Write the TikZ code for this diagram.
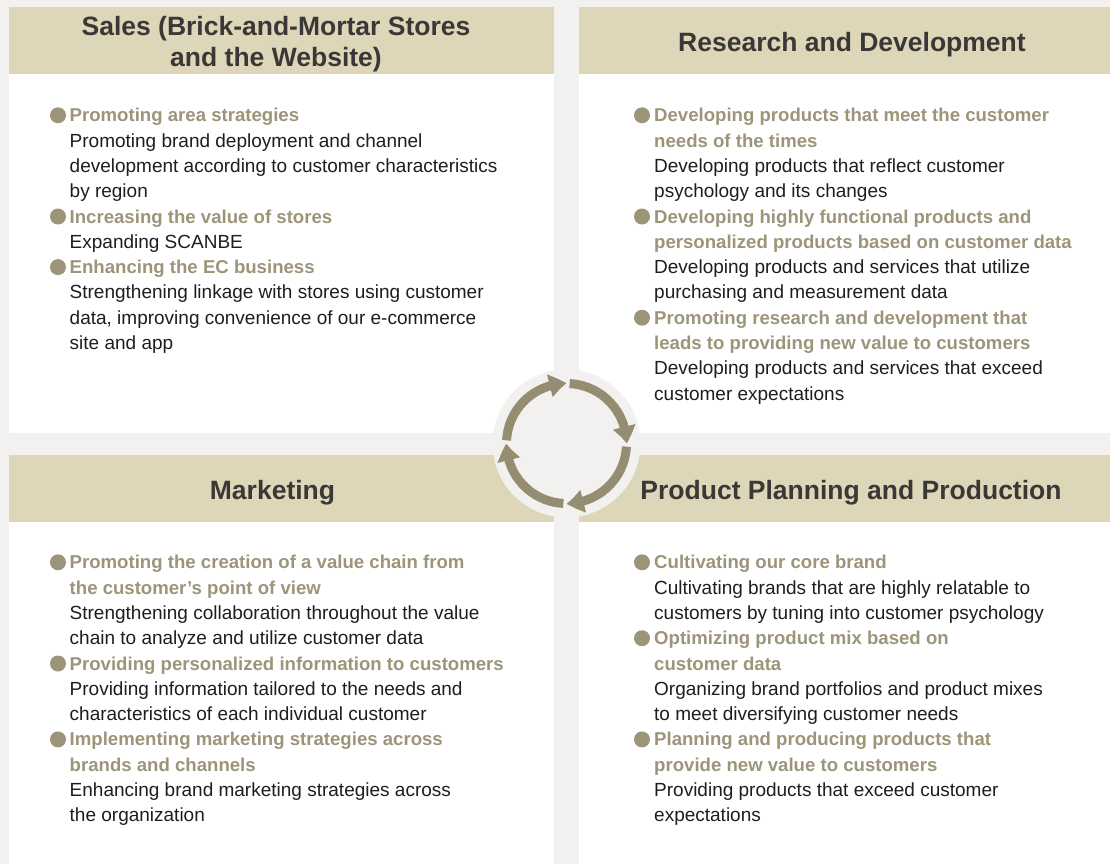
\documentclass[tikz,border=0pt]{standalone}
\usepackage{fontspec}
\setmainfont{Liberation Sans}
\usetikzlibrary{arrows.meta,bending}

\definecolor{bg}{HTML}{F2F1EF}
\definecolor{band}{HTML}{DED6B8}
\definecolor{accent}{HTML}{9C957A}
\definecolor{ring}{HTML}{958D72}
\definecolor{titletext}{HTML}{3A3836}
\definecolor{bodytext}{HTML}{1E1E1E}

% bold, coloured first line(s) of an item
\newcommand{\hl}[1]{{\fontsize{18.6}{25.3}\selectfont\color{accent}\bfseries #1}}

\begin{document}
% multi-line nodes are placed by the baseline of their last line
\begin{tikzpicture}[x=1pt,y=-1pt,
  panel/.style={fill=white,draw=none,anchor=north west,inner sep=0pt,outer sep=0pt},
  bandbox/.style={fill=band,draw=none,anchor=north west,inner sep=0pt,outer sep=0pt,minimum height=67pt},
  heading/.style={anchor=base,inner sep=0pt,text=titletext,align=center,
    font=\fontsize{26.5}{31}\selectfont\bfseries},
  item/.style={anchor=base west,inner sep=0pt,align=left,text=bodytext,
    font=\fontsize{19}{25.3}\selectfont},
  bullet/.style={circle,fill=accent,draw=none,inner sep=0pt,minimum size=16pt},
  hubdisc/.style={circle,fill=bg,draw=none,inner sep=0pt,minimum size=148pt},
  cyclearrow/.style={draw=ring,line width=9pt,
    -{Triangle[width=22pt,length=17pt,bend]}}
]
% page background
\fill[bg] (0,0) rectangle (1110,864);
\useasboundingbox (0,0) rectangle (1110,864);

% four panels
\node[panel,minimum width=545pt,minimum height=426pt] (tl) at (9,7) {};
\node[panel,minimum width=531pt,minimum height=426pt] (tr) at (579,7) {};
\node[panel,minimum width=545pt,minimum height=409pt] (bl) at (9,455) {};
\node[panel,minimum width=531pt,minimum height=409pt] (br) at (579,455) {};

% title bands
\node[bandbox,minimum width=545pt] (tlband) at (tl.north west) {};
\node[bandbox,minimum width=531pt] (trband) at (tr.north west) {};
\node[bandbox,minimum width=545pt] (blband) at (bl.north west) {};
\node[bandbox,minimum width=531pt] (brband) at (br.north west) {};

% titles
\node[heading] (tltitle) at (276,66.7) {Sales (Brick-and-Mortar Stores\\and the Website)};
\node[heading] (trtitle) at (852,51.5) {Research and Development};
\node[heading] (bltitle) at (272.5,499.5) {Marketing};
\node[heading] (brtitle) at (851,499.5) {Product Planning and Production};

% Sales
\node[bullet] (tlb1) at (58,115.3) {};
\node[item] (tli1) at (69.5,197.7) {\hl{Promoting area strategies}\\
  Promoting brand deployment and channel\\
  development according to customer characteristics\\
  by region};
\node[bullet] (tlb2) at (58,216.5) {};
\node[item] (tli2) at (69.5,248.3) {\hl{Increasing the value of stores}\\
  Expanding SCANBE};
\node[bullet] (tlb3) at (58,267.1) {};
\node[item] (tli3) at (69.5,349.5) {\hl{Enhancing the EC business}\\
  Strengthening linkage with stores using customer\\
  data, improving convenience of our e-commerce\\
  site and app};

% Research and Development
\node[bullet] (trb1) at (642,115.3) {};
\node[item] (tri1) at (654,197.7) {\hl{Developing products that meet the customer}\\
  \hl{needs of the times}\\
  Developing products that reflect customer\\
  psychology and its changes};
\node[bullet] (trb2) at (642,216.5) {};
\node[item] (tri2) at (654,298.9) {\hl{Developing highly functional products and}\\
  \hl{personalized products based on customer data}\\
  Developing products and services that utilize\\
  purchasing and measurement data};
\node[bullet] (trb3) at (642,317.7) {};
\node[item] (tri3) at (654,400.1) {\hl{Promoting research and development that}\\
  \hl{leads to providing new value to customers}\\
  Developing products and services that exceed\\
  customer expectations};

% Marketing
\node[bullet] (blb1) at (58,562.3) {};
\node[item] (bli1) at (69.5,644.7) {\hl{Promoting the creation of a value chain from}\\
  \hl{the customer's point of view}\\
  Strengthening collaboration throughout the value\\
  chain to analyze and utilize customer data};
\node[bullet] (blb2) at (58,663.5) {};
\node[item] (bli2) at (69.5,720.6) {\hl{Providing personalized information to customers}\\
  Providing information tailored to the needs and\\
  characteristics of each individual customer};
\node[bullet] (blb3) at (58,739.4) {};
\node[item] (bli3) at (69.5,821.8) {\hl{Implementing marketing strategies across}\\
  \hl{brands and channels}\\
  Enhancing brand marketing strategies across\\
  the organization};

% Product Planning and Production
\node[bullet] (brb1) at (642,562.3) {};
\node[item] (bri1) at (654,619.4) {\hl{Cultivating our core brand}\\
  Cultivating brands that are highly relatable to\\
  customers by tuning into customer psychology};
\node[bullet] (brb2) at (642,638.2) {};
\node[item] (bri2) at (654,720.6) {\hl{Optimizing product mix based on}\\
  \hl{customer data}\\
  Organizing brand portfolios and product mixes\\
  to meet diversifying customer needs};
\node[bullet] (brb3) at (642,739.4) {};
\node[item] (bri3) at (654,821.8) {\hl{Planning and producing products that}\\
  \hl{provide new value to customers}\\
  Providing products that exceed customer\\
  expectations};

% central cycle
\node[hubdisc] (hub) at (566.5,443.5) {};
\begin{scope}[shift={(hub.center)},y=1pt]
  \draw[cyclearrow] (177:60) arc[start angle=177,end angle=90,radius=60];
  \draw[cyclearrow] (87:60) arc[start angle=87,end angle=0,radius=60];
  \draw[cyclearrow] (-3:60) arc[start angle=-3,end angle=-90,radius=60];
  \draw[cyclearrow] (-93:60) arc[start angle=-93,end angle=-180,radius=60];
\end{scope}
\end{tikzpicture}
\end{document}
